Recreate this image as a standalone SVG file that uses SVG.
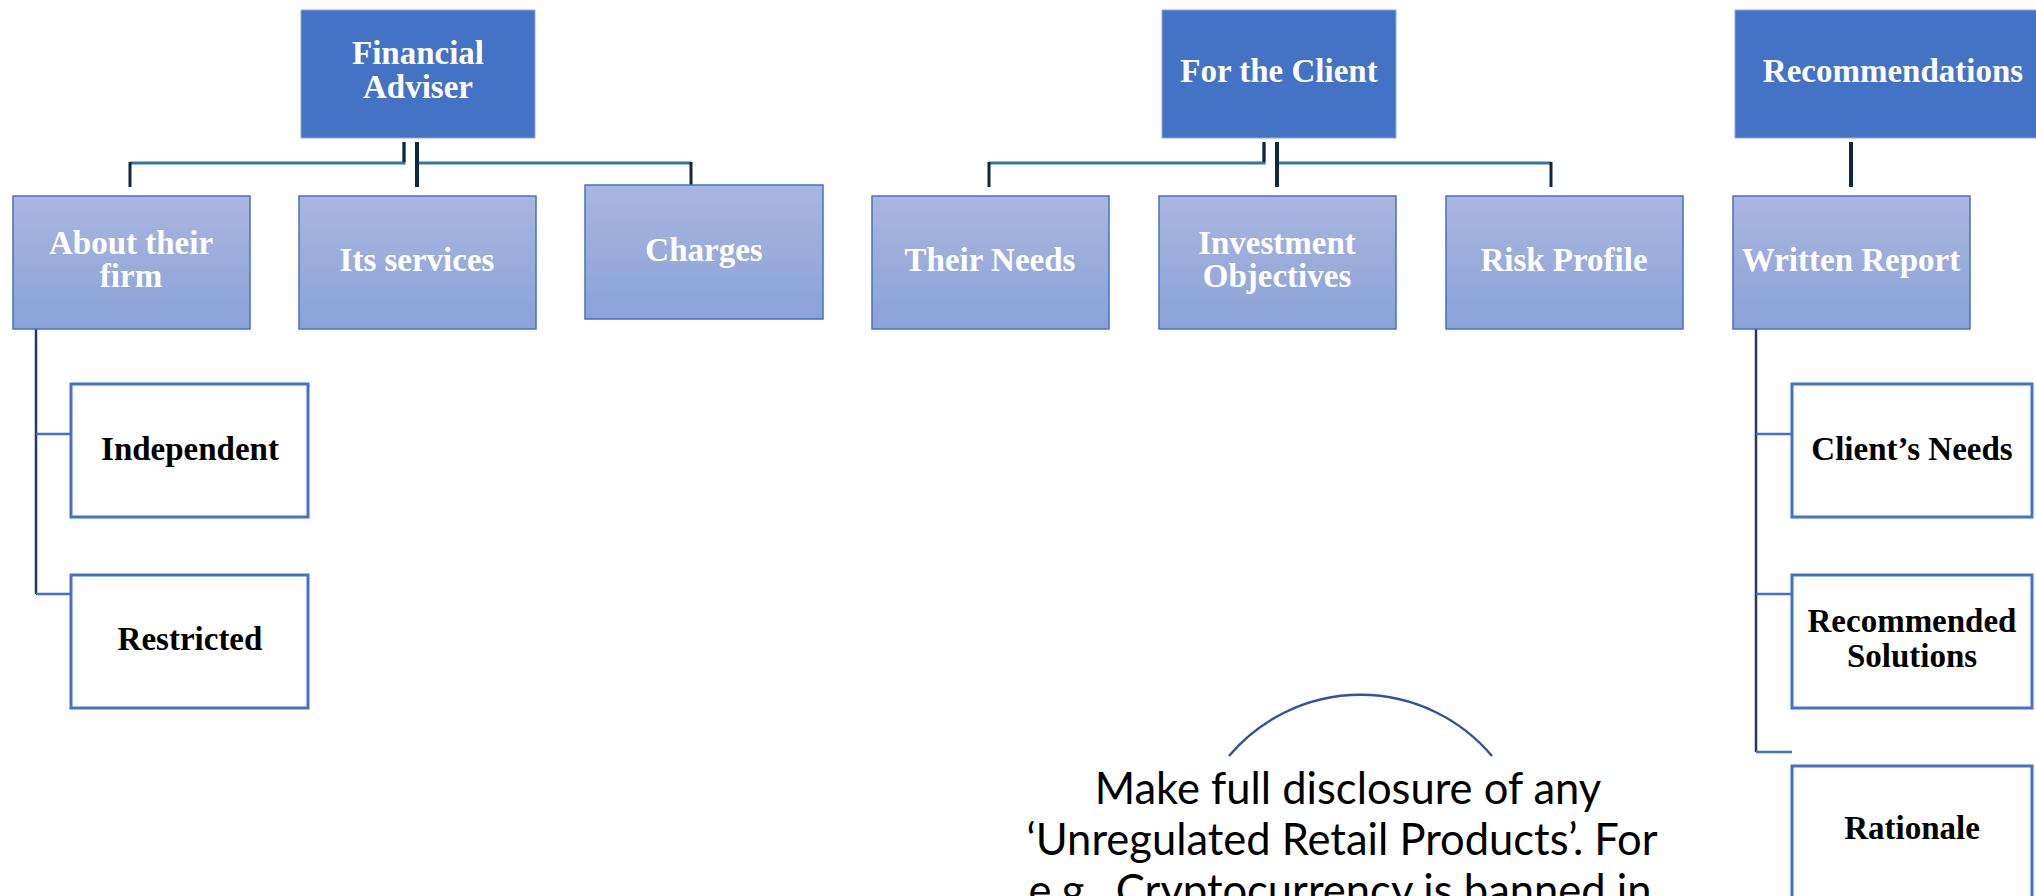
<svg xmlns="http://www.w3.org/2000/svg" width="2036" height="896" viewBox="0 0 2036 896">
<defs>
<linearGradient id="g2" x1="0" y1="0" x2="0" y2="1">
<stop offset="0" stop-color="#A9B6DF"/>
<stop offset="1" stop-color="#8AA2D8"/>
</linearGradient>
</defs>
<style>
.top rect{fill:#4472C4;stroke:#8EA9DB;stroke-width:1}
.mid rect{fill:url(#g2);stroke:#4472C4;stroke-width:1.5}
.low rect{fill:#ffffff;stroke:#4472C4;stroke-width:3}
.n{font-family:"Liberation Serif",serif;font-weight:bold;font-size:33px;text-anchor:middle}
.top text,.mid text{fill:#ffffff}
.low text{fill:#000000}
.h{stroke:#2E75B6;stroke-width:3;fill:none}
.v{stroke:#0E2841;stroke-width:3;fill:none}
.vt{stroke:#0E2841;stroke-width:4;fill:none}
.b{stroke:#4472C4;stroke-width:2.5;fill:none}
.bd{stroke:#1F3864;stroke-width:2.5;fill:none}
.note{font-family:Lato,"Liberation Sans",sans-serif;font-size:43.5px;fill:#000000;text-anchor:middle}
</style>
<rect width="2036" height="896" fill="#ffffff"/>

<g id="connectors">
  <!-- Financial Adviser -->
  <path class="h" d="M404,142 V163 H130"/>
  <path class="v" d="M130,162 V187"/>
  <path class="v" d="M404,142 V162"/>
  <path class="h" d="M417,163 H691"/>
  <path class="v" d="M691,162 V185"/>
  <path class="vt" d="M417,142 V187"/>
  <!-- For the Client -->
  <path class="h" d="M1264,142 V163 H989"/>
  <path class="v" d="M989,162 V187"/>
  <path class="v" d="M1264,142 V162"/>
  <path class="h" d="M1277,163 H1551"/>
  <path class="v" d="M1551,162 V187"/>
  <path class="vt" d="M1277,142 V187"/>
  <!-- Recommendations -->
  <path class="vt" d="M1851,142 V187"/>
  <!-- About their firm children -->
  <path class="bd" d="M36,329 V594"/>
  <path class="b" d="M36,434 H71 M36,594 H71"/>
  <!-- Written Report children -->
  <path class="bd" d="M1756,329 V752"/>
  <path class="b" d="M1756,434 H1792 M1756,594 H1792 M1756,752 H1792"/>
</g>

<g id="n-financial-adviser" class="top">
  <rect x="301" y="10" width="234" height="128"/>
  <text class="n" x="418" y="64">Financial</text>
  <text class="n" x="418" y="98">Adviser</text>
</g>
<g id="n-for-the-client" class="top">
  <rect x="1162" y="10" width="234" height="128"/>
  <text class="n" x="1279" y="82">For the Client</text>
</g>
<g id="n-recommendations" class="top">
  <rect x="1735" y="10" width="316" height="128"/>
  <text class="n" x="1893" y="82">Recommendations</text>
</g>

<g id="n-about-their-firm" class="mid">
  <rect x="13" y="196" width="237" height="133"/>
  <text class="n" x="131" y="254">About their</text>
  <text class="n" x="131" y="287">firm</text>
</g>
<g id="n-its-services" class="mid">
  <rect x="299" y="196" width="237" height="133"/>
  <text class="n" x="417" y="271">Its services</text>
</g>
<g id="n-charges" class="mid">
  <rect x="585" y="185" width="238" height="134"/>
  <text class="n" x="704" y="261">Charges</text>
</g>
<g id="n-their-needs" class="mid">
  <rect x="872" y="196" width="237" height="133"/>
  <text class="n" x="990" y="271">Their Needs</text>
</g>
<g id="n-investment-objectives" class="mid">
  <rect x="1159" y="196" width="237" height="133"/>
  <text class="n" x="1277" y="254">Investment</text>
  <text class="n" x="1277" y="287">Objectives</text>
</g>
<g id="n-risk-profile" class="mid">
  <rect x="1446" y="196" width="237" height="133"/>
  <text class="n" x="1564" y="271">Risk Profile</text>
</g>
<g id="n-written-report" class="mid">
  <rect x="1733" y="196" width="237" height="133"/>
  <text class="n" x="1851" y="271">Written Report</text>
</g>

<g id="n-independent" class="low">
  <rect x="71" y="384" width="237" height="133"/>
  <text class="n" x="190" y="460">Independent</text>
</g>
<g id="n-restricted" class="low">
  <rect x="71" y="575" width="237" height="133"/>
  <text class="n" x="190" y="650">Restricted</text>
</g>
<g id="n-clients-needs" class="low">
  <rect x="1792" y="384" width="240" height="133"/>
  <text class="n" x="1912" y="460">Client’s Needs</text>
</g>
<g id="n-recommended-solutions" class="low">
  <rect x="1792" y="575" width="240" height="133"/>
  <text class="n" x="1912" y="632">Recommended</text>
  <text class="n" x="1912" y="667">Solutions</text>
</g>
<g id="n-rationale" class="low">
  <rect x="1792" y="766" width="240" height="133"/>
  <text class="n" x="1912" y="839">Rationale</text>
</g>

<g id="n-note">
  <path d="M1229,756 A172,172 0 0 1 1492,756" fill="none" stroke="#2F5597" stroke-width="2.5"/>
  <text class="note" x="1348" y="804">Make full disclosure of any</text>
  <text class="note" x="1342" y="855">‘Unregulated Retail Products’. For</text>
  <text class="note" x="1340" y="906">e.g., Cryptocurrency is banned in</text>
</g>
</svg>
